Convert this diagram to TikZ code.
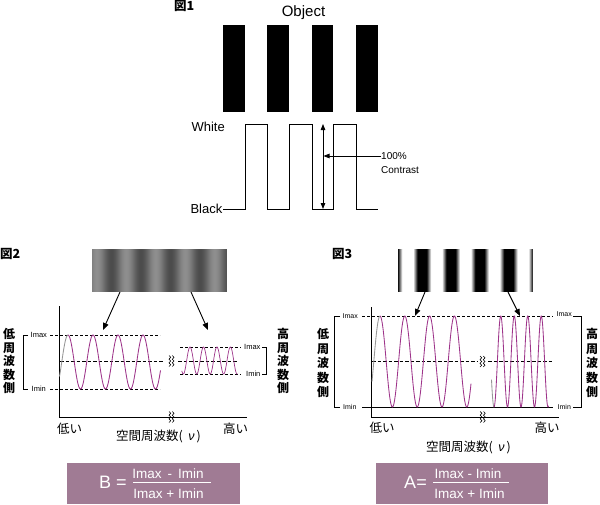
\documentclass[tikz,border=0pt]{standalone}
\usepackage{fontspec}
\setmainfont{Liberation Sans}
\newfontfamily\jp{Noto Sans CJK JP}
\usetikzlibrary{arrows.meta}
\definecolor{wave}{RGB}{158,52,138}
\definecolor{boxc}{RGB}{160,123,148}
\definecolor{gdark}{RGB}{76,76,76}
\definecolor{glight}{RGB}{142,142,142}
\definecolor{wgray}{RGB}{150,150,150}
\begin{document}
\begin{tikzpicture}[x=1pt,y=-1pt,
  lab/.style={inner sep=0pt, font=\fontsize{13}{15}\selectfont},
  sm/.style={inner sep=0pt, font=\fontsize{7.5}{8}\selectfont},
  jpv/.style={inner sep=0pt, align=center, font=\jp\bfseries\fontsize{12}{13.5}\selectfont},
  jpv3/.style={inner sep=0pt, align=center, font=\jp\bfseries\fontsize{12}{14.5}\selectfont},
  jpl/.style={inner sep=0pt, font=\jp\fontsize{12.5}{14}\selectfont},
  fig/.style={inner sep=0pt, font=\jp\bfseries\fontsize{12.5}{14}\selectfont},
  arr/.style={line width=0.9pt, -{Triangle[length=7pt,width=5.5pt]}},
  dsh/.style={line width=0.6pt, dash pattern=on 3pt off 2pt},
  dshc/.style={line width=0.9pt, dash pattern=on 3.5pt off 2pt},
  ax/.style={line width=0.9pt},
  wv/.style={wave, line width=0.85pt},
  wvg/.style={wgray, line width=0.85pt},
  brk/.pic={
    \draw[line width=0.6pt] (-2.5,-5.5) -- (-0.8,-3.7) -- (-2.5,-1.8) -- (-0.8,0) -- (-2.5,1.8) -- (-0.8,3.7) -- (-2.5,5.5);
    \draw[line width=0.6pt] (0.8,-5.5) -- (2.5,-3.7) -- (0.8,-1.8) -- (2.5,0) -- (0.8,1.8) -- (2.5,3.7) -- (0.8,5.5);
  }
]
\useasboundingbox (0,0) rectangle (600,504);
\fill[white] (0,0) rectangle (600,504);

%%%%%%%%%%%%%%%% Figure 1
\node[fig, anchor=west] (f1) at (174,6) {図1};
\node[inner sep=0pt, font=\fontsize{15}{17}\selectfont] (obj) at (303.5,13) {Object};
\foreach \x/\w in {223/22,267/22,312/21,356/22}
  \fill (\x,25) rectangle ++(\w,87);
\draw[line width=1pt] (223,209) -- (245,209) -- (245,124) -- (267,124) -- (267,209)
  -- (289,209) -- (289,124) -- (312,124) -- (312,209) -- (333,209) -- (333,124)
  -- (356,124) -- (356,209) -- (378,209);
\node[lab, anchor=east] (white) at (225,127) {White};
\node[lab, anchor=east] (black) at (222.5,209) {Black};
\coordinate (ct) at (323,124);
\coordinate (cb) at (323,209);
\draw[line width=0.8pt, {Triangle[length=6pt,width=4.5pt]}-{Triangle[length=6pt,width=4.5pt]}] (ct) -- (cb);
\node[inner sep=0pt, anchor=west, font=\fontsize{10}{11}\selectfont] (pct) at (381,156) {100\%};
\node[inner sep=0pt, anchor=west, font=\fontsize{10}{11}\selectfont] (con) at (381,170.5) {Contrast};
\coordinate (ctip) at (323.5,156);
\draw[line width=0.8pt, -{Triangle[length=6pt,width=4.5pt]}] (pct.west) -- (ctip);

%%%%%%%%%%%%%%%% Figure 2
\node[fig, anchor=west] (f2) at (0,254) {図2};
\begin{scope}
  \clip (92,249) rectangle (227,292);
  \foreach \i in {0,...,134} {
    \pgfmathsetmacro\xx{92+\i}
    \pgfmathsetmacro\t{50+50*cos((\xx+0.5-97)/29.5*360)}
    \fill[glight!\t!gdark] (\xx,249) rectangle (\xx+1.4,292);
  }
\end{scope}
\node[inner sep=0pt, minimum width=135pt, minimum height=43pt] (bar2) at (159.5,270.5) {};
\coordinate (b2l) at (120,292); \coordinate (t2l) at (103,330);
\coordinate (b2r) at (191,292); \coordinate (t2r) at (208,330);
\draw[arr] (b2l) -- (t2l);
\draw[arr] (b2r) -- (t2r);
% axes
\draw[ax] (59,306) -- (59,417) -- (247,417);
\pic at (171.5,417) {brk};
% left levels
\draw[line width=0.7pt] (28,335) -- (23,335) -- (23,389) -- (28,389);
\node[sm, anchor=west] (i2max) at (30.5,335) {Imax};
\node[sm, anchor=west] (i2min) at (31.5,389) {Imin};
\draw[dsh] (50,335) -- (160,335);
\draw[dsh] (50,389) -- (160,389);
\draw[dshc] (60,361) -- (164,361);
\pic at (171.5,361) {brk};
\draw[dshc] (178,361) -- (238,361);
% right levels
\draw[dsh] (180,347) -- (241,347);
\draw[dsh] (180,374) -- (241,374);
\node[sm, anchor=west] (r2max) at (244,347) {Imax};
\node[sm, anchor=west] (r2min) at (246,374) {Imin};
\draw[line width=0.7pt] (262,347) -- (266,347) -- (266,374) -- (262,374);
% waves
\draw[wvg] plot[domain=59.5:68, samples=30] (\x,{362-27*cos((\x-68)/25*360)});
\draw[wv] plot[domain=68:160.5, samples=240] (\x,{362-27*cos((\x-68)/25*360)});
\draw[wv, line width=0.7pt] plot[domain=181.8:237.5, samples=200] (\x,{360.5+13.5*cos((\x-183.3)/13.45*360)});
% vertical labels
\node[jpv] (lo2) at (9,361) {低\\周\\波\\数\\側};
\node[jpv] (hi2) at (283,361) {高\\周\\波\\数\\側};
\node[jpl] (low2) at (69.5,429) {低い};
\node[jpl] (high2) at (235.5,429) {高い};
\node[jpl] (sf2) at (158.5,436.5) {空間周波数({\normalfont\itshape\, ν\,})};
% formula B
\node[fill=boxc, inner sep=0pt, minimum width=173pt, minimum height=41pt] (boxB) at (153.5,483.5) {};
\node[inner sep=0pt, text=white, font=\fontsize{18}{20}\selectfont] (Beq) at (113,482) {B =};
\draw[white, line width=0.7pt] (133,482) -- (211,482);
\node[inner sep=0pt, text=white, font=\fontsize{13.5}{15}\selectfont] (Bnum) at (168,473.5) {Imax\ \,-\ \,Imin};
\node[inner sep=0pt, text=white, font=\fontsize{13.5}{15}\selectfont] (Bden) at (168.5,493.5) {Imax + Imin};

%%%%%%%%%%%%%%%% Figure 3
\node[fig, anchor=west] (f3) at (332,254) {図3};
\begin{scope}
  \clip (398,249) rectangle (533,292);
  \foreach \i in {0,...,134} {
    \pgfmathsetmacro\xx{398+\i}
    \pgfmathsetmacro\d{abs(mod(\xx+0.5-393.7+14.425+57.7,28.85)-14.425)}
    \pgfmathsetmacro\p{max(0,min(100,(9-\d)/4.5*100))}
    \fill[black!\p] (\xx,249) rectangle (\xx+1.4,292);
  }
\end{scope}
\node[inner sep=0pt, minimum width=135pt, minimum height=43pt] (bar3) at (465.5,270.5) {};
\coordinate (b3l) at (425,292); \coordinate (t3l) at (415,316);
\coordinate (b3r) at (508,292); \coordinate (t3r) at (520,316);
\draw[arr] (b3l) -- (t3l);
\draw[arr] (b3r) -- (t3r);
% axes
\draw[ax] (371,307) -- (371,417) -- (559,417);
\pic at (482.7,417) {brk};
% levels
\draw[line width=0.7pt] (340,316) -- (334,316) -- (334,407) -- (340,407);
\node[sm, anchor=west, font=\fontsize{7}{8}\selectfont] (i3max) at (342.5,316) {Imax};
\node[sm, anchor=west, font=\fontsize{7}{8}\selectfont] (i3min) at (343,407) {Imin};
\draw[dsh] (362,316) -- (553,316);
\draw[ax] (362,407) -- (553,407);
\draw[dshc] (372,361.5) -- (478,361.5);
\pic at (482.5,361.5) {brk};
\draw[dshc] (488,361.5) -- (552,361.5);
\node[sm, anchor=west, font=\fontsize{7}{8}\selectfont] (r3max) at (556.5,314.5) {Imax};
\node[sm, anchor=west, font=\fontsize{7}{8}\selectfont] (r3min) at (557.5,406.5) {Imin};
\draw[line width=0.7pt] (573,316) -- (581,316) -- (581,407) -- (573,407);
% waves
\draw[wvg] plot[domain=372:380, samples=30] (\x,{361.5-45.5*cos((\x-380)/24.8*360)});
\draw[wv] plot[domain=380:471, samples=240] (\x,{361.5-45.5*cos((\x-380)/24.8*360)});
\draw[wvg] plot[domain=491.5:494, samples=15] (\x,{361.5+45.5*cos((\x-494)/13.5*360)});
\draw[wv] plot[domain=494:548.5, samples=240] (\x,{361.5+45.5*cos((\x-494)/13.5*360)});
% labels
\node[jpv3] (lo3) at (323,363) {低\\周\\波\\数\\側};
\node[jpv3] (hi3) at (592,363) {高\\周\\波\\数\\側};
\node[jpl] (low3) at (382,428) {低い};
\node[jpl] (high3) at (547,428) {高い};
\node[jpl] (sf3) at (468.5,447) {空間周波数({\normalfont\itshape\, ν\,})};
% formula A
\node[fill=boxc, inner sep=0pt, minimum width=172pt, minimum height=41pt] (boxA) at (462,483.5) {};
\node[inner sep=0pt, text=white, font=\fontsize{18}{20}\selectfont] (Aeq) at (415.5,482) {A=};
\draw[white, line width=0.7pt] (433,482) -- (509,482);
\node[inner sep=0pt, text=white, font=\fontsize{13.5}{15}\selectfont] (Anum) at (468,473.5) {Imax - Imin};
\node[inner sep=0pt, text=white, font=\fontsize{13.5}{15}\selectfont] (Aden) at (469.5,493.5) {Imax + Imin};
\end{tikzpicture}
\end{document}
